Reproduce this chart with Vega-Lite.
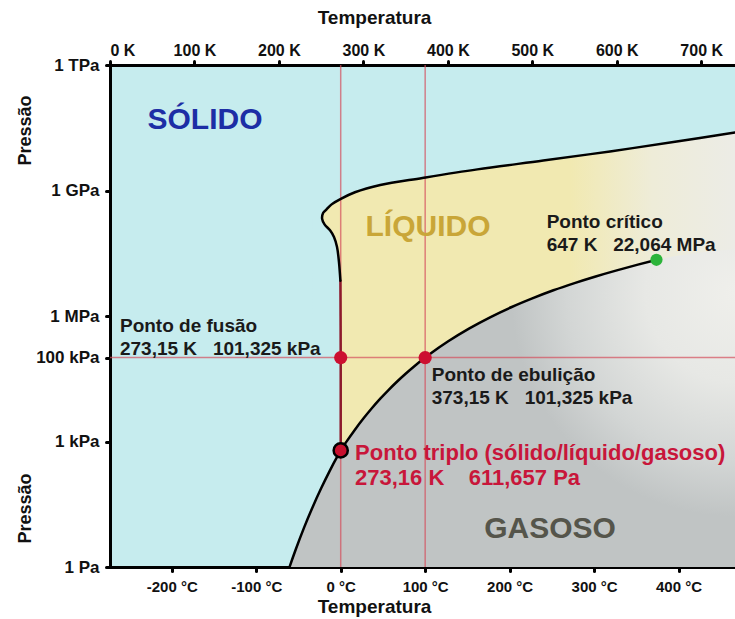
{
  "$schema": "https://vega.github.io/schema/vega-lite/v6.json",
  "width": 625,
  "height": 502,
  "autosize": {"type": "none"},
  "padding": {"left": 110, "top": 65, "right": 0, "bottom": 52},
  "background": "#ffffff",
  "config": {
    "view": {"stroke": null, "fill": "#c6ecee"},
    "font": "Liberation Sans",
    "axis": {
      "grid": false,
      "zindex": 1,
      "domainColor": "#000000",
      "domainWidth": 3,
      "domainCap": "square",
      "tickColor": "#000000",
      "tickWidth": 3,
      "tickSize": 4,
      "tickCap": "round",
      "labelFont": "Liberation Sans",
      "labelFontSize": 15,
      "labelFontWeight": "bold",
      "labelColor": "#111111",
      "labelOverlap": false,
      "titleFont": "Liberation Sans",
      "titleFontWeight": "bold",
      "titleColor": "#111111",
      "titleAlign": "center",
      "titleBaseline": "middle"
    }
  },
  "datasets": {
    "gelo": [
      {"i": 0, "T": 273.16, "P": 1, "trecho": "base"},
      {"i": 1, "T": 273.16, "P": 611.657, "trecho": "fusão"},
      {"i": 2, "T": 273.15, "P": 101325, "trecho": "fusão"},
      {"i": 3, "T": 273.0, "P": 1000000, "trecho": "fusão"},
      {"i": 4, "T": 272.8, "P": 7000000, "trecho": "fusão"},
      {"i": 5, "T": 272.8, "P": 7000000, "trecho": "gelo"},
      {"i": 6, "T": 271.1, "P": 19500000, "trecho": "gelo"},
      {"i": 7, "T": 268.8, "P": 44700000, "trecho": "gelo"},
      {"i": 8, "T": 265.2, "P": 77600000, "trecho": "gelo"},
      {"i": 9, "T": 260.5, "P": 112000000, "trecho": "gelo"},
      {"i": 10, "T": 254.0, "P": 155000000, "trecho": "gelo"},
      {"i": 11, "T": 251.165, "P": 209900000, "trecho": "gelo"},
      {"i": 12, "T": 252.3, "P": 290000000, "trecho": "gelo"},
      {"i": 13, "T": 256.165, "P": 350100000, "trecho": "gelo"},
      {"i": 14, "T": 262.0, "P": 460000000, "trecho": "gelo"},
      {"i": 15, "T": 273.31, "P": 632400000, "trecho": "gelo"},
      {"i": 16, "T": 290, "P": 910000000, "trecho": "gelo"},
      {"i": 17, "T": 320, "P": 1360000000, "trecho": "gelo"},
      {"i": 18, "T": 370, "P": 2000000000, "trecho": "gelo"},
      {"i": 19, "T": 435, "P": 3200000000, "trecho": "gelo"},
      {"i": 20, "T": 513, "P": 5200000000, "trecho": "gelo"},
      {"i": 21, "T": 592, "P": 8600000000, "trecho": "gelo"},
      {"i": 22, "T": 671, "P": 14800000000, "trecho": "gelo"},
      {"i": 23, "T": 740, "P": 24400000000, "trecho": "gelo"}
    ],
    "vapor": [
      {"i": 0, "T": 210, "P": 0.70},
      {"i": 1, "T": 213.15, "P": 1.08},
      {"i": 2, "T": 220, "P": 2.65},
      {"i": 3, "T": 230, "P": 8.97},
      {"i": 4, "T": 240, "P": 27.3},
      {"i": 5, "T": 250, "P": 76.0},
      {"i": 6, "T": 260, "P": 195.8},
      {"i": 7, "T": 270, "P": 470},
      {"i": 8, "T": 273.16, "P": 611.657},
      {"i": 9, "T": 280, "P": 991.8},
      {"i": 10, "T": 290, "P": 1920},
      {"i": 11, "T": 300, "P": 3537},
      {"i": 12, "T": 310, "P": 6231},
      {"i": 13, "T": 320, "P": 10546},
      {"i": 14, "T": 330, "P": 17213},
      {"i": 15, "T": 340, "P": 27188},
      {"i": 16, "T": 350, "P": 41682},
      {"i": 17, "T": 360, "P": 62194},
      {"i": 18, "T": 373.15, "P": 101325},
      {"i": 19, "T": 380, "P": 128900},
      {"i": 20, "T": 400, "P": 245800},
      {"i": 21, "T": 425, "P": 500000},
      {"i": 22, "T": 450, "P": 932000},
      {"i": 23, "T": 475, "P": 1620000},
      {"i": 24, "T": 500, "P": 2639000},
      {"i": 25, "T": 525, "P": 4120000},
      {"i": 26, "T": 550, "P": 6120000},
      {"i": 27, "T": 575, "P": 8810000},
      {"i": 28, "T": 600, "P": 12340000},
      {"i": 29, "T": 625, "P": 16900000},
      {"i": 30, "T": 647, "P": 22064000},
      {"i": 31, "T": 680, "P": 29000000},
      {"i": 32, "T": 740, "P": 40000000}
    ],
    "pontos": [
      {"nome": "fusão", "T": 273.15, "P": 101325},
      {"nome": "ebulição", "T": 373.15, "P": 101325},
      {"nome": "triplo", "T": 273.16, "P": 611.657},
      {"nome": "crítico", "T": 647, "P": 22064000}
    ],
    "fases": [
      {"nome": "SÓLIDO", "T": 112.5, "P": 48400000000},
      {"nome": "LÍQUIDO", "T": 376.5, "P": 134000000},
      {"nome": "GASOSO", "T": 521, "P": 8.1}
    ],
    "notas": [
      {"linhas": ["Ponto crítico", "647 K\u00a0\u00a0 22,064 MPa"], "T": 517, "P": 172000000},
      {"linhas": ["Ponto de fusão", "273,15 K\u00a0\u00a0 101,325 kPa"], "T": 11.8, "P": 590000},
      {"linhas": ["Ponto de ebulição", "373,15 K\u00a0\u00a0 101,325 kPa"], "T": 380.9, "P": 39000}
    ],
    "triplo": [
      {"linhas": ["Ponto triplo (sólido/líquido/gasoso)", "273,16 K\u00a0\u00a0\u00a0 611,657 Pa"], "T": 290.1, "P": 520}
    ]
  },
  "layer": [
    {
      "data": {"name": "gelo"},
      "transform": [{"filter": "datum.i >= 11"}],
      "mark": {
        "type": "area",
        "clip": true,
        "opacity": 1,
        "interpolate": "catmull-rom",
        "color": {
          "gradient": "linear",
          "x1": 0, "y1": 0, "x2": 1, "y2": 0,
          "stops": [
            {"offset": 0, "color": "#f1e9b1"},
            {"offset": 0.6, "color": "#f1e9b1"},
            {"offset": 0.8, "color": "#eeecd8"},
            {"offset": 1, "color": "#ecece6"}
          ]
        }
      },
      "encoding": {
        "x": {
          "field": "T", "type": "quantitative",
          "scale": {"domain": [0, 740], "nice": false, "zero": false},
          "axis": {
            "orient": "bottom",
            "values": [73.15, 173.15, 273.15, 373.15, 473.15, 573.15, 673.15],
            "labelExpr": "round(datum.value - 273.15) + ' °C'",
            "labelPadding": 8,
            "title": "Temperatura",
            "titleFontSize": 19,
            "titleX": 264,
            "titleY": 39
          }
        },
        "y": {
          "field": "P", "type": "quantitative",
          "scale": {"type": "log", "domain": [1, 1000000000000], "nice": false},
          "axis": {
            "orient": "left",
            "values": [1, 1000, 100000, 1000000, 1000000000, 1000000000000],
            "labelExpr": "datum.value >= 1e12 ? '1 TPa' : datum.value >= 1e9 ? '1 GPa' : datum.value >= 1e6 ? '1 MPa' : datum.value >= 1e5 ? '100 kPa' : datum.value >= 1e3 ? '1 kPa' : '1 Pa'",
            "labelFontSize": 17,
            "labelPadding": 7,
            "labelFlush": false,
            "title": "Pressão",
            "titleFontSize": 18,
            "titleAngle": 270,
            "titleX": -85,
            "titleY": 65
          }
        },
        "y2": {"datum": 1}
      }
    },
    {
      "data": {"name": "gelo"},
      "transform": [{"filter": "datum.i <= 11"}],
      "mark": {"type": "area", "orient": "horizontal", "clip": true, "opacity": 1, "interpolate": "catmull-rom", "color": "#c6ecee"},
      "encoding": {
        "y": {"field": "P", "type": "quantitative", "scale": {"type": "log", "domain": [1, 1000000000000], "nice": false}, "axis": null},
        "x": {"field": "T", "type": "quantitative", "scale": {"domain": [0, 740], "nice": false, "zero": false}, "axis": null},
        "x2": {"datum": 240}
      }
    },
    {
      "data": {"name": "vapor"},
      "mark": {
        "type": "area",
        "clip": true,
        "opacity": 1,
        "interpolate": "monotone",
        "color": {
          "gradient": "radial",
          "x1": 1, "y1": 0.234, "r1": 0,
          "x2": 1, "y2": 0.234, "r2": 0.5,
          "stops": [
            {"offset": 0, "color": "#efefeb"},
            {"offset": 0.4, "color": "#e7e8e5"},
            {"offset": 0.75, "color": "#d3d6d5"},
            {"offset": 1, "color": "#c0c4c4"}
          ]
        }
      },
      "encoding": {
        "x": {
          "field": "T", "type": "quantitative",
          "scale": {"domain": [0, 740], "nice": false, "zero": false},
          "axis": {
            "orient": "top",
            "values": [0, 100, 200, 300, 400, 500, 600, 700],
            "labelExpr": "datum.value + ' K'",
            "labelFontSize": 16,
            "labelPadding": 3,
            "labelDx": 3,
            "title": "Temperatura",
            "titleFontSize": 19,
            "titleX": 264,
            "titleY": -48
          }
        },
        "y": {
          "field": "P", "type": "quantitative",
          "scale": {"type": "log", "domain": [1, 1000000000000], "nice": false},
          "axis": {
            "orient": "left",
            "labels": false,
            "ticks": false,
            "domain": false,
            "title": "Pressão",
            "titleFontSize": 18,
            "titleAngle": 270,
            "titleX": -85,
            "titleY": 443
          }
        },
        "y2": {"datum": 1}
      }
    },
    {
      "data": {"values": [{"T": 273.15}, {"T": 373.15}]},
      "mark": {"type": "rule", "color": "#d4505e", "strokeWidth": 1.5, "opacity": 0.7},
      "encoding": {"x": {"field": "T", "type": "quantitative", "axis": null}}
    },
    {
      "data": {"values": [{"P": 101325}]},
      "mark": {"type": "rule", "color": "#d4505e", "strokeWidth": 1.5, "opacity": 0.7},
      "encoding": {"y": {"field": "P", "type": "quantitative", "axis": null}}
    },
    {
      "data": {"name": "gelo"},
      "transform": [{"filter": "datum.trecho != 'base'"}],
      "mark": {"type": "line", "clip": true, "strokeWidth": 2.5, "interpolate": "catmull-rom", "strokeCap": "round", "strokeJoin": "round"},
      "encoding": {
        "x": {"field": "T", "type": "quantitative", "axis": null},
        "y": {"field": "P", "type": "quantitative", "axis": null},
        "order": {"field": "i", "type": "quantitative"},
        "color": {"field": "trecho", "type": "nominal", "scale": {"domain": ["fusão", "gelo"], "range": ["#8c1a2c", "#000000"]}, "legend": null}
      }
    },
    {
      "data": {"name": "vapor"},
      "transform": [{"filter": "datum.i <= 30"}],
      "mark": {"type": "line", "clip": true, "strokeWidth": 2.5, "interpolate": "monotone", "color": "#000000"},
      "encoding": {
        "x": {"field": "T", "type": "quantitative", "axis": null},
        "y": {"field": "P", "type": "quantitative", "axis": null},
        "order": {"field": "i", "type": "quantitative"}
      }
    },
    {
      "data": {"name": "pontos"},
      "transform": [{"filter": "datum.nome == 'fusão' || datum.nome == 'ebulição'"}],
      "mark": {"type": "circle", "size": 175, "color": "#cc1030", "opacity": 1},
      "encoding": {
        "x": {"field": "T", "type": "quantitative", "axis": null},
        "y": {"field": "P", "type": "quantitative", "axis": null}
      }
    },
    {
      "data": {"name": "pontos"},
      "transform": [{"filter": "datum.nome == 'triplo'"}],
      "mark": {"type": "circle", "size": 200, "fill": "#c8102e", "stroke": "#000000", "strokeWidth": 2.5, "opacity": 1},
      "encoding": {
        "x": {"field": "T", "type": "quantitative", "axis": null},
        "y": {"field": "P", "type": "quantitative", "axis": null}
      }
    },
    {
      "data": {"name": "pontos"},
      "transform": [{"filter": "datum.nome == 'crítico'"}],
      "mark": {"type": "circle", "size": 150, "color": "#2cb43a", "opacity": 1},
      "encoding": {
        "x": {"field": "T", "type": "quantitative", "axis": null},
        "y": {"field": "P", "type": "quantitative", "axis": null}
      }
    },
    {
      "data": {"name": "fases"},
      "mark": {"type": "text", "align": "center", "baseline": "middle", "fontSize": 30, "fontWeight": "bold"},
      "encoding": {
        "x": {"field": "T", "type": "quantitative", "axis": null},
        "y": {"field": "P", "type": "quantitative", "axis": null},
        "text": {"field": "nome", "type": "nominal"},
        "color": {"field": "nome", "type": "nominal", "scale": {"domain": ["SÓLIDO", "LÍQUIDO", "GASOSO"], "range": ["#1d2ea5", "#c9a638", "#55554b"]}, "legend": null}
      }
    },
    {
      "data": {"name": "notas"},
      "mark": {"type": "text", "align": "left", "baseline": "middle", "fontSize": 19, "fontWeight": "bold", "lineHeight": 23, "color": "#1a1a1a"},
      "encoding": {
        "x": {"field": "T", "type": "quantitative", "axis": null},
        "y": {"field": "P", "type": "quantitative", "axis": null},
        "text": {"field": "linhas", "type": "nominal"}
      }
    },
    {
      "data": {"name": "triplo"},
      "mark": {"type": "text", "align": "left", "baseline": "middle", "fontSize": 22, "fontWeight": "bold", "lineHeight": 25, "color": "#c8163a"},
      "encoding": {
        "x": {"field": "T", "type": "quantitative", "axis": null},
        "y": {"field": "P", "type": "quantitative", "axis": null},
        "text": {"field": "linhas", "type": "nominal"}
      }
    }
  ],
  "resolve": {
    "axis": {"x": "independent", "y": "independent"},
    "scale": {"color": "independent"}
  }
}
